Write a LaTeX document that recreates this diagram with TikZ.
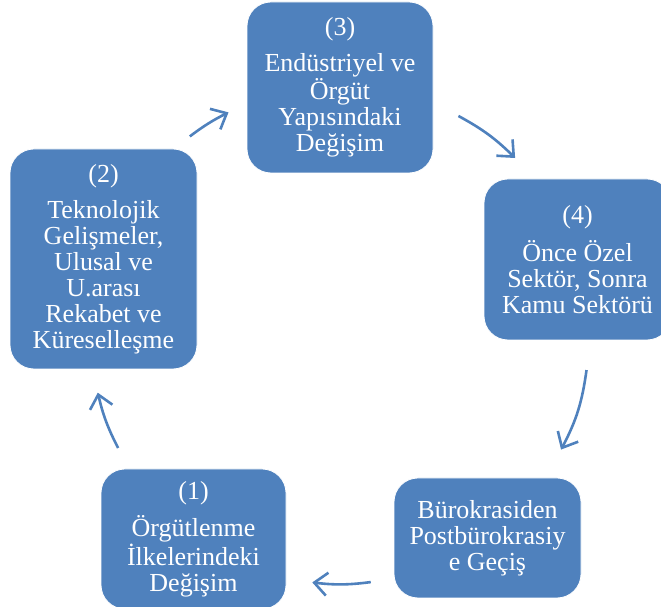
\documentclass[tikz,border=0pt]{standalone}
\usepackage{fontspec}
\setmainfont{Liberation Serif}
\usetikzlibrary{arrows.meta}
\definecolor{boxblue}{HTML}{4F81BD}

\begin{document}
\begin{tikzpicture}[x=1pt,y=1pt]
\clip (0,0) rectangle (661,607);
\begin{scope}[every node/.style={rectangle,rounded corners=24pt,fill=boxblue,draw=white,thick,
              text=white,align=center,inner sep=0pt,font=\fontsize{26}{26}\selectfont}]
    \node[minimum width=185pt,minimum height=140pt] (N1) at (193.5,68)
        {(1)\\[10pt]Örgütlenme\\İlkelerindeki\\Değişim};
    \node[minimum width=187pt,minimum height=220pt] (N2) at (103.5,348)
        {(2)\\[10pt]Teknolojik\\Gelişmeler,\\Ulusal ve\\U.arası\\Rekabet ve\\Küreselleşme};
    \node[minimum width=186pt,minimum height=171pt] (N3) at (340,519.5)
        {(3)\\[10pt]Endüstriyel ve\\Örgüt\\Yapısındaki\\Değişim};
    \node[minimum width=187pt,minimum height=161pt] (N4) at (577.5,347.5)
        {(4)\\[10pt]Önce Özel\\Sektör, Sonra\\Kamu Sektörü};
    \node[minimum width=187pt,minimum height=120pt] (N5) at (487.5,69)
        {Bürokrasiden\\Postbürokrasiy\\e Geçiş};
\end{scope}

% arrow ends on the cycle
\begin{scope}[shift={(340,272)}]
    \coordinate (p1) at (-153:249);   \coordinate (q1) at (-166.6:249);
    \coordinate (p2) at (127.1:249);  \coordinate (q2) at (116.6:249);
    \coordinate (p3) at (61.6:249);   \coordinate (q3) at (45.3:249);
    \coordinate (p4) at (-8.1:249);   \coordinate (q4) at (-27.4:249);
    \coordinate (p5) at (-82.9:249);  \coordinate (q5) at (-96.4:249);
\end{scope}

\begin{scope}[>={Straight Barb[length=13pt,width=23pt]},
              every edge/.style={draw=boxblue,line width=2.6pt}]
    \path [->] (p1) edge[bend left=7]  (q1);
    \path [->] (p2) edge[bend left=5]  (q2);
    \path [->] (p3) edge[bend left=8]  (q3);
    \path [->] (p4) edge[bend left=10] (q4);
    \path [->] (p5) edge[bend left=7]  (q5);
\end{scope}
\end{tikzpicture}
\end{document}
